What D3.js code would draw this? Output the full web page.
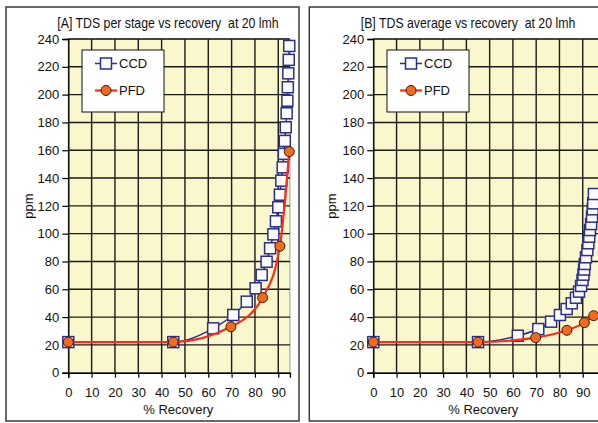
<!DOCTYPE html>
<html>
<head>
<meta charset="utf-8">
<script src="https://cdn.jsdelivr.net/npm/d3@7/dist/d3.min.js"></script>
<style>
  html, body { margin: 0; padding: 0; background: #ffffff; }
  svg { display: block; font-family: "Liberation Sans", Arial, sans-serif; }
  text { white-space: pre; }
</style>
</head>
<body>
<svg id="chart" width="598" height="423"></svg>
<script>
// ---- data ----
const yTicks = [0, 20, 40, 60, 80, 100, 120, 140, 160, 180, 200, 220, 240];
const xTicks = [0, 10, 20, 30, 40, 50, 60, 70, 80, 90];
const seriesNames = ["CCD", "PFD"];

// [A] TDS per stage
const recoveryA_CCD = [0, 45, 62.1, 70.7, 76.5, 80.3, 82.9, 85.0, 86.5, 87.9, 89.0, 90.0, 90.7, 91.3, 91.9, 92.4, 92.8, 93.2, 93.6, 93.9, 94.1, 94.3, 94.5, 94.7];
const tdsA_CCD      = [22, 22, 31.9, 41.5, 51.1, 60.7, 70.3, 79.8, 89.5, 99.5, 108.9, 119, 128, 138.1, 147.7, 157.4, 166.7, 176.5, 186.6, 195.6, 205.3, 215.3, 225, 235];
const recoveryA_PFD = [0, 45, 69.7, 83.3, 90.7, 94.7];
const tdsA_PFD      = [22, 22, 33, 54, 91, 159];

// [B] TDS average
const recoveryB_CCD = [0, 45, 62.1, 70.9, 76.4, 80.2, 83.1, 85.3, 87.1, 88.4, 89.3, 89.9, 90.3, 90.6, 90.9, 91.4, 92.0, 92.4, 92.8, 93.1, 93.6, 94.0, 94.3, 94.5, 94.8];
const tdsB_CCD      = [22, 22, 26.6, 31.4, 36.7, 41.5, 45.8, 49.9, 53.9, 58.3, 62.4, 66.7, 70.5, 74.2, 78.2, 83, 88.2, 93.1, 97.8, 102.6, 106.9, 112.2, 117.5, 121.8, 128.5];
const recoveryB_PFD = [0, 45, 69.8, 83.2, 90.7, 94.7];
const tdsB_PFD      = [22, 22, 25.2, 30.5, 36, 41];

const titles = ["[A] TDS per stage vs recovery  at 20 lmh", "[B] TDS average vs recovery  at 20 lmh"];

// ---- drawing ----
const svg = d3.select("#chart");
const PLOT_BG = "#faf7cc";
const GRID = "#1a1a1a";
const NAVY = "#2b2f8c";
const RED = "#ff2a1a";
const ORANGE = "#f26a1e";
const FONT = 13;

function zip(xs, ys) { return xs.map((x, i) => ({ x: x, y: ys[i] })); }

function drawPanel(cfg) {
  const g = svg.append("g");

  // outer frame
  g.append("rect")
    .attr("x", cfg.frameX).attr("y", 7)
    .attr("width", 293).attr("height", 414)
    .attr("fill", "#fff").attr("stroke", "#3a3a3a").attr("stroke-width", 1.5);

  const x = d3.scaleLinear().domain([0, cfg.xMax]).range([cfg.plotX0, cfg.plotX0 + cfg.xMax * cfg.pxPerUnit]);
  const y = d3.scaleLinear().domain([0, 240]).range([372.7, 39]);

  const clipId = "clip" + cfg.id;
  svg.append("clipPath").attr("id", clipId)
    .append("rect")
    .attr("x", cfg.frameX + 1).attr("y", 8)
    .attr("width", 291).attr("height", 412);

  // plot area
  g.append("rect")
    .attr("x", x(0)).attr("y", y(240))
    .attr("width", x(cfg.xMax) - x(0)).attr("height", y(0) - y(240))
    .attr("fill", PLOT_BG).attr("stroke", "#9a9a9a").attr("stroke-width", 1);

  // grid
  g.append("g").selectAll("line").data(yTicks.filter(d => d > 0)).join("line")
    .attr("x1", x(0)).attr("x2", x(cfg.xMax))
    .attr("y1", d => y(d)).attr("y2", d => y(d))
    .attr("stroke", GRID).attr("stroke-width", 1.4);
  g.append("g").selectAll("line").data(xTicks.filter(d => d > 0)).join("line")
    .attr("x1", d => x(d)).attr("x2", d => x(d))
    .attr("y1", y(0)).attr("y2", y(240))
    .attr("stroke", GRID).attr("stroke-width", 1.4);

  // axes
  const yAxis = d3.axisLeft(y).tickValues(yTicks).tickSize(6).tickPadding(3);
  const xAxis = d3.axisBottom(x).tickValues(xTicks).tickSize(5).tickPadding(10);
  const ya = g.append("g").attr("transform", `translate(${x(0)},0)`).call(yAxis);
  const xa = g.append("g").attr("transform", `translate(0,${y(0)})`).call(xAxis);
  [ya, xa].forEach(a => {
    a.select(".domain").attr("stroke", "#000").attr("stroke-width", 1.4);
    a.selectAll(".tick line").attr("stroke", "#000").attr("stroke-width", 1.2);
    a.selectAll(".tick text")
      .attr("font-family", "Liberation Sans, Arial, sans-serif")
      .attr("font-size", FONT).attr("fill", "#111");
  });

  // title and axis labels
  g.append("text")
    .attr("transform", `translate(${cfg.titleX},28) scale(0.88,1)`)
    .attr("text-anchor", "middle").attr("font-size", 14).attr("fill", "#111")
    .text(cfg.title);
  g.append("text")
    .attr("x", cfg.plotX0 + 110).attr("y", 414)
    .attr("text-anchor", "middle").attr("font-size", FONT).attr("fill", "#111")
    .text("% Recovery");
  g.append("text")
    .attr("transform", `translate(${cfg.frameX + 27},206) rotate(-90)`)
    .attr("text-anchor", "middle").attr("font-size", FONT).attr("fill", "#111")
    .text("ppm");

  // series
  const marks = g.append("g").attr("clip-path", `url(#${clipId})`);
  const ccd = zip(cfg.ccdX, cfg.ccdY);
  const pfd = zip(cfg.pfdX, cfg.pfdY);
  const line = d3.line().x(d => x(d.x)).y(d => y(d.y)).curve(d3.curveMonotoneX);

  marks.append("path").datum(ccd).attr("d", line)
    .attr("fill", "none").attr("stroke", NAVY).attr("stroke-width", 1.5);
  marks.append("g").selectAll("rect").data(ccd).join("rect")
    .attr("x", d => x(d.x) - 5.5).attr("y", d => y(d.y) - 5.5)
    .attr("width", 11).attr("height", 11)
    .attr("fill", "#fbfbff").attr("stroke", NAVY).attr("stroke-width", 1.5);

  marks.append("path").datum(pfd).attr("d", line)
    .attr("fill", "none").attr("stroke", RED).attr("stroke-width", 2.2);
  marks.append("g").selectAll("circle").data(pfd).join("circle")
    .attr("cx", d => x(d.x)).attr("cy", d => y(d.y)).attr("r", 5)
    .attr("fill", ORANGE).attr("stroke", "#3a1a0a").attr("stroke-width", 1);

  // legend
  const lx = cfg.legendX, ly = 50;
  const lg = g.append("g");
  lg.append("rect").attr("x", lx).attr("y", ly).attr("width", 82).attr("height", 62)
    .attr("fill", "#fff").attr("stroke", "#111").attr("stroke-width", 1);
  const rows = [{ name: seriesNames[0], cy: ly + 13.5 }, { name: seriesNames[1], cy: ly + 40.5 }];
  rows.forEach((r, i) => {
    lg.append("line").attr("x1", lx + 13).attr("x2", lx + 35).attr("y1", r.cy).attr("y2", r.cy)
      .attr("stroke", i === 0 ? NAVY : RED).attr("stroke-width", i === 0 ? 1.5 : 2.2);
    if (i === 0) {
      lg.append("rect").attr("x", lx + 24 - 5.5).attr("y", r.cy - 5.5).attr("width", 11).attr("height", 11)
        .attr("fill", "#fbfbff").attr("stroke", NAVY).attr("stroke-width", 1.5);
    } else {
      lg.append("circle").attr("cx", lx + 24).attr("cy", r.cy).attr("r", 5)
        .attr("fill", ORANGE).attr("stroke", "#3a1a0a").attr("stroke-width", 1);
    }
    lg.append("text").attr("x", lx + 37).attr("y", r.cy + 4.8)
      .attr("font-size", FONT).attr("fill", "#111").text(r.name);
  });
}

drawPanel({
  id: "A", frameX: 6, plotX0: 68.3, pxPerUnit: 2.333, xMax: 95,
  titleX: 168, title: titles[0], legendX: 82,
  ccdX: recoveryA_CCD, ccdY: tdsA_CCD, pfdX: recoveryA_PFD, pfdY: tdsA_PFD
});
drawPanel({
  id: "B", frameX: 309.3, plotX0: 373.3, pxPerUnit: 2.327, xMax: 100,
  titleX: 468, title: titles[1], legendX: 387,
  ccdX: recoveryB_CCD, ccdY: tdsB_CCD, pfdX: recoveryB_PFD, pfdY: tdsB_PFD
});
</script>
</body>
</html>
